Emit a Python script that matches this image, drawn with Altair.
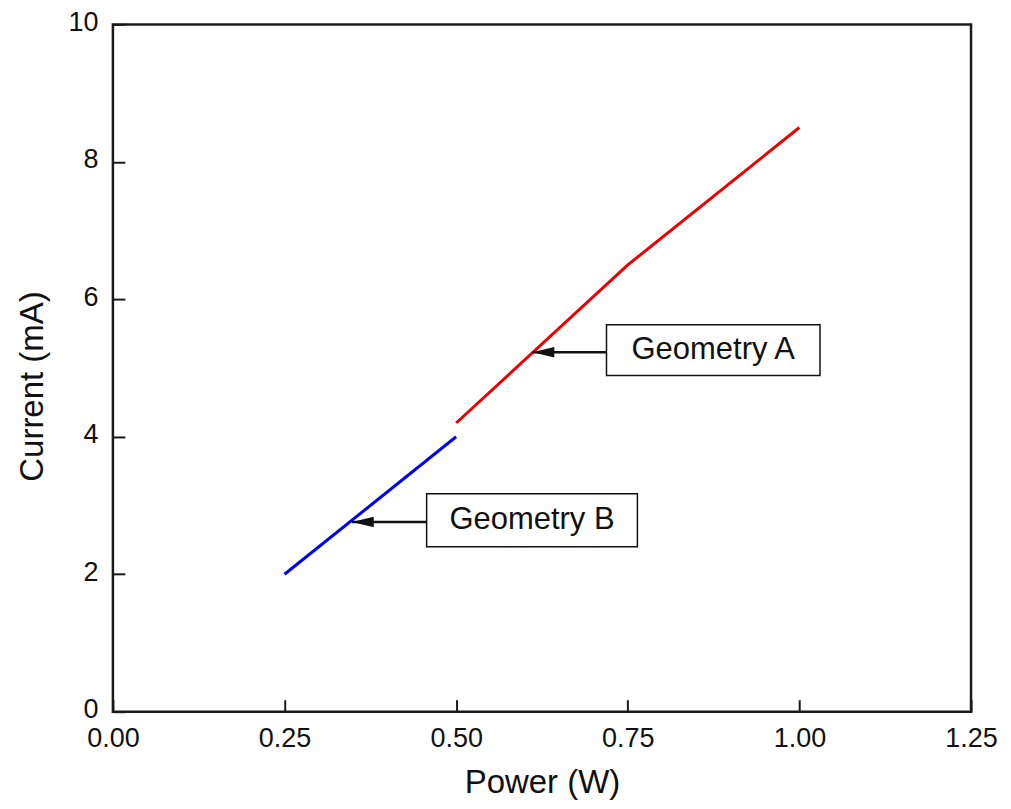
import altair as alt
import pandas as pd

# Series
geo_b_power = [0.25, 0.50]
geo_b_current = [2.0, 4.0]
geo_a_power = [0.50, 0.75, 1.00]
geo_a_current = [4.2, 6.5, 8.5]

# Annotations
ann_labels = ["Geometry A", "Geometry B"]
ann_box_x1 = [0.719, 0.457]
ann_box_x2 = [1.030, 0.764]
ann_box_y1 = [4.89, 2.40]
ann_box_y2 = [5.63, 3.17]
ann_arrow_y = [5.23, 2.76]
ann_arrow_tip = [0.611, 0.348]

x_ticks = [0.0, 0.25, 0.5, 0.75, 1.0, 1.25]
y_ticks = [0, 2, 4, 6, 8, 10]

FONT = "Liberation Sans"

lines = pd.DataFrame({
    "power": geo_b_power + geo_a_power,
    "current": geo_b_current + geo_a_current,
    "series": ["Geometry B"] * len(geo_b_power) + ["Geometry A"] * len(geo_a_power),
})
ann = pd.DataFrame({
    "label": ann_labels,
    "x1": ann_box_x1, "x2": ann_box_x2,
    "y1": ann_box_y1, "y2": ann_box_y2,
    "ay": ann_arrow_y, "tip": ann_arrow_tip,
})
ann["xc"] = (ann["x1"] + ann["x2"]) / 2
ann["yc"] = (ann["y1"] + ann["y2"]) / 2

xscale = alt.Scale(domain=[0, 1.25], nice=False, zero=False)
yscale = alt.Scale(domain=[0, 10], nice=False, zero=False)

xaxis = alt.Axis(values=x_ticks, format=".2f", title="Power (W)",
                 tickSize=12, offset=-12, domain=False, grid=False,
                 tickWidth=2, tickColor="#1a1a1a", labelPadding=14,
                 labelFlush=False, labelOverlap=False,
                 labelFontSize=27, labelFont=FONT, labelColor="#111",
                 titleFontSize=33, titleFont=FONT, titleFontWeight="normal",
                 titleColor="#111", titlePadding=15)
yaxis = alt.Axis(values=y_ticks, format="d", title="Current (mA)",
                 tickSize=12, offset=-12, domain=False, grid=False,
                 tickWidth=2, tickColor="#1a1a1a", labelPadding=15,
                 labelFlush=False, labelOverlap=False, labelOffset=-2,
                 labelFontSize=27, labelFont=FONT, labelColor="#111",
                 titleFontSize=33, titleFont=FONT, titleFontWeight="normal",
                 titleColor="#111", titlePadding=18, titleY=362)

line_chart = alt.Chart(lines).mark_line(strokeWidth=3).encode(
    x=alt.X("power:Q", scale=xscale, axis=xaxis),
    y=alt.Y("current:Q", scale=yscale, axis=yaxis),
    color=alt.Color("series:N", scale=alt.Scale(domain=["Geometry A", "Geometry B"],
                                                range=["#ee0000", "#0000ee"]), legend=None),
    detail="series:N",
)

arrow_line = alt.Chart(ann).mark_rule(strokeWidth=2.5, color="#111").encode(
    x="tip:Q", x2="x1:Q", y="ay:Q")

arrow_head = alt.Chart(ann).mark_point(
    shape="M0,0L1,-0.24L1,0.24Z", filled=True, color="#111", opacity=1, size=1936,
    strokeWidth=0).encode(x="tip:Q", y="ay:Q")

boxes = alt.Chart(ann).mark_rect(fill="white", stroke="#111", strokeWidth=1.5).encode(
    x="x1:Q", x2="x2:Q", y="y1:Q", y2="y2:Q")

texts = alt.Chart(ann).mark_text(font=FONT, fontSize=31, color="#111",
                                 align="center", baseline="middle").encode(
    x="xc:Q", y="yc:Q", text="label:N")

chart = alt.layer(line_chart, arrow_line, arrow_head, boxes, texts).properties(
    width=859, height=688,
    padding={"left": 105, "top": 16, "right": 32, "bottom": 88},
    autosize=alt.AutoSizeParams(type="none"),
).configure_view(stroke="#1a1a1a", strokeWidth=2.5)

chart.save("out.html", embed_options={"renderer": "svg", "actions": False})
